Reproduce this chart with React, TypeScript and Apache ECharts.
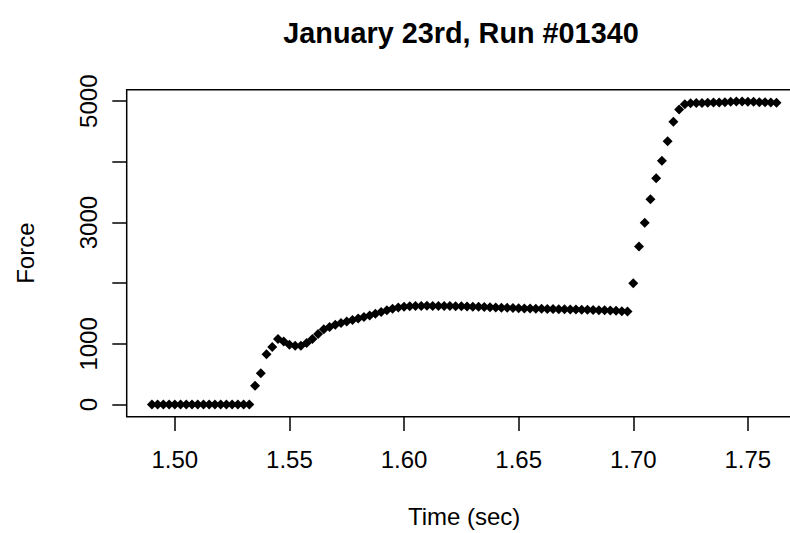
import React, { useEffect, useRef } from "react";
import * as echarts from "echarts";

const timeSec = [
  1.49, 1.4925, 1.495, 1.4975, 1.5, 1.5025, 1.505, 1.5075, 1.51, 1.5125, 1.515, 1.5175, 1.52, 1.5225, 1.525, 1.5275, 1.53, 1.5325,
  1.535, 1.5375, 1.54, 1.5425, 1.545, 1.5475, 1.55, 1.5525, 1.555, 1.5575, 1.56, 1.5625, 1.565, 1.5675, 1.57, 1.5725, 1.575,
  1.5775, 1.58, 1.5825, 1.585, 1.5875, 1.59, 1.5925, 1.595, 1.5975, 1.6, 1.6025, 1.605,
  1.6075, 1.61, 1.6125, 1.615, 1.6175, 1.62, 1.6225, 1.625, 1.6275, 1.63, 1.6325, 1.635, 1.6375, 1.64, 1.6425, 1.645, 1.6475,
  1.65, 1.6525, 1.655, 1.6575, 1.66, 1.6625, 1.665, 1.6675, 1.67, 1.6725, 1.675, 1.6775, 1.68, 1.6825, 1.685, 1.6875, 1.69,
  1.6925, 1.695, 1.6975,
  1.7, 1.7025, 1.705, 1.7075, 1.71, 1.7125, 1.715, 1.7175, 1.72,
  1.7225, 1.725, 1.7275, 1.73, 1.7325, 1.735, 1.7375, 1.74, 1.7425, 1.745, 1.7475, 1.75, 1.7525, 1.755, 1.7575, 1.76, 1.7625,
];

const force = [
  0, 0, 0, 0, 0, 0, 0, 0, 0, 0, 0, 0, 0, 0, 0, 0, 0, 0,
  310, 515, 830, 950, 1080, 1041, 987, 970, 970, 1015, 1081, 1163, 1240, 1280, 1315, 1345, 1370,
  1395, 1420, 1445, 1470, 1495, 1525, 1555, 1578, 1598, 1612, 1620, 1625,
  1626, 1627, 1626, 1625, 1624, 1623, 1621, 1619, 1617, 1614, 1611, 1607, 1604, 1600, 1597, 1594, 1591,
  1588, 1585, 1583, 1580, 1578, 1576, 1574, 1572, 1570, 1568, 1566, 1564, 1562, 1559, 1556, 1553, 1549,
  1545, 1540, 1535,
  2000, 2604, 2998, 3383, 3729, 4018, 4342, 4660, 4863,
  4950, 4965, 4970, 4972, 4975, 4978, 4980, 4985, 4990, 4995, 4995, 4992, 4990, 4985, 4982, 4978, 4975,
];

const xTicks = [1.5, 1.55, 1.6, 1.65, 1.7, 1.75];
const yTicks = [0, 1000, 2000, 3000, 4000, 5000];
const yTickLabels = [0, 1000, 3000, 5000];

const titleText = "January 23rd, Run #01340";
const xName = "Time (sec)";
const yName = "Force";

export default function App() {
  const ref = useRef<HTMLDivElement>(null);

  useEffect(() => {
    document.body.style.margin = "0";
    const chart = echarts.init(ref.current!, null, { renderer: "svg" });
    const font = '"Liberation Sans", Arial, Helvetica, sans-serif';
    const points = timeSec.map((t, i) => [t, force[i]]);

    chart.setOption({
      animation: false,
      backgroundColor: "#ffffff",
      textStyle: { fontFamily: font },
      grid: {
        left: 126.7,
        top: 89.7,
        width: 674.8,
        height: 327,
        show: true,
        borderColor: "#000",
        borderWidth: 1.5,
        backgroundColor: "transparent",
        containLabel: false,
        outerBoundsMode: "none",
      },
      graphic: [
        {
          type: "text",
          x: 461,
          y: 33,
          style: {
            text: titleText,
            font: 'bold 28.8px "Liberation Sans", Arial, Helvetica, sans-serif',
            fill: "#000",
            align: "center",
            verticalAlign: "middle",
            textAlign: "center",
            textVerticalAlign: "middle",
          },
        },
      ],
      xAxis: {
        type: "value",
        min: 1.479,
        max: 1.7734,
        name: xName,
        nameLocation: "middle",
        nameGap: 88,
        nameTextStyle: { fontSize: 24, color: "#000", fontFamily: font },
        axisLine: { show: false, onZero: false },
        axisTick: {
          show: true,
          inside: false,
          length: 14.4,
          customValues: xTicks,
          lineStyle: { color: "#000", width: 1.5 },
        },
        axisLabel: {
          customValues: xTicks,
          formatter: (v: number) => v.toFixed(2),
          fontSize: 24,
          color: "#000",
          margin: 31,
          fontFamily: font,
        },
        splitLine: { show: false },
      },
      yAxis: {
        type: "value",
        min: -200,
        max: 5190,
        name: yName,
        nameLocation: "middle",
        nameGap: 89.5,
        nameTextStyle: { fontSize: 24, color: "#000", fontFamily: font },
        axisLine: { show: false, onZero: false },
        axisTick: {
          show: true,
          inside: false,
          length: 14.4,
          customValues: yTicks,
          lineStyle: { color: "#000", width: 1.5 },
        },
        axisLabel: {
          customValues: yTickLabels,
          formatter: (v: number) => String(v),
          rotate: 90,
          fontSize: 24,
          color: "#000",
          margin: 26,
          fontFamily: font,
        },
        splitLine: { show: false },
      },
      series: [
        {
          type: "scatter",
          data: points,
          symbol: "diamond",
          symbolSize: 10,
          itemStyle: { color: "#000", opacity: 1 },
          emphasis: { disabled: true },
        },
      ],
    });

    return () => chart.dispose();
  }, []);

  return (
    <div
      ref={ref}
      style={{ position: "absolute", left: 0, top: 0, width: 790, height: 533, overflow: "hidden" }}
    />
  );
}
